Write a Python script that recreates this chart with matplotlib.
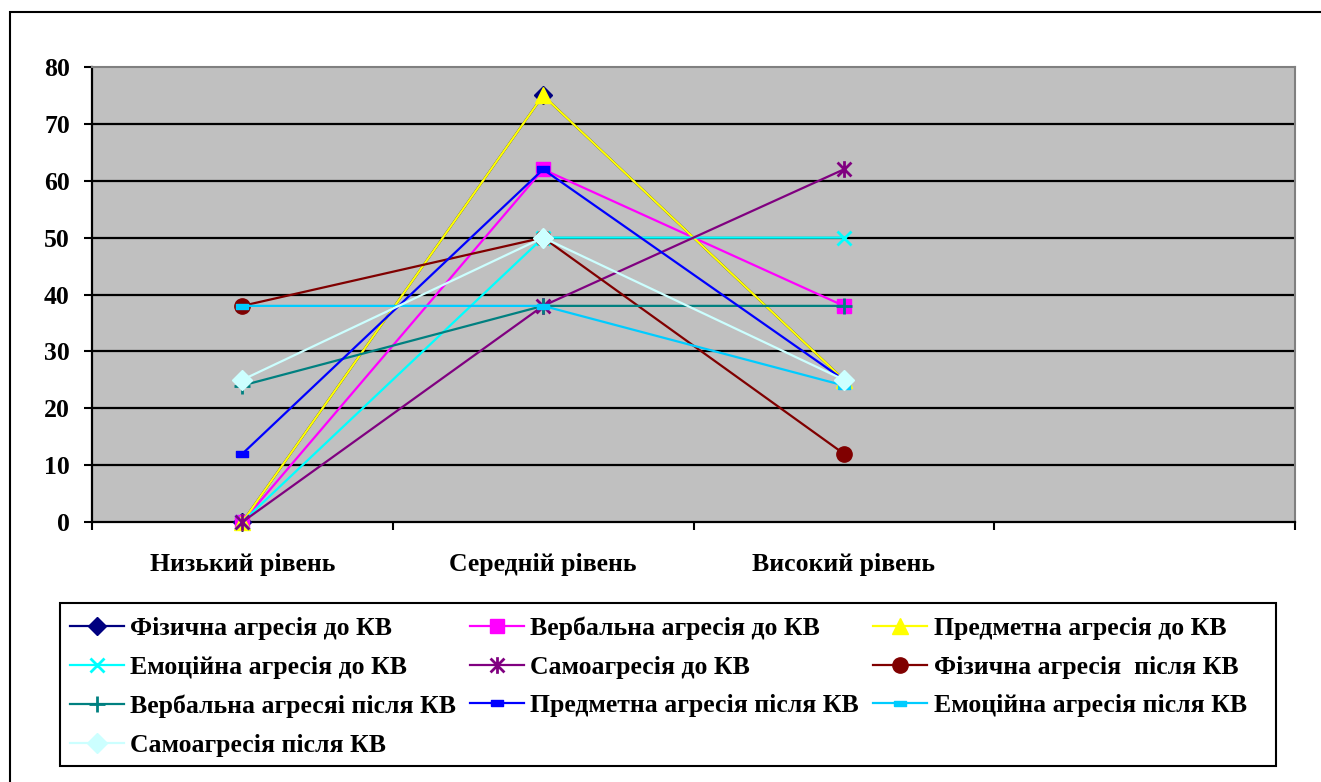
import numpy as np
import matplotlib
matplotlib.use("Agg")
import matplotlib.pyplot as plt
from matplotlib.path import Path
from matplotlib.patches import Rectangle

levels = ["Низький рівень", "Середній рівень", "Високий рівень", ""]

series_names = [
    "Фізична агресія до КВ",
    "Вербальна агресія до КВ",
    "Предметна агресія до КВ",
    "Емоційна агресія до КВ",
    "Самоагресія до КВ",
    "Фізична агресія  після КВ",
    "Вербальна агресяі після КВ",
    "Предметна агресія після КВ",
    "Емоційна агресія після КВ",
    "Самоагресія після КВ",
]

phys_before = [0, 75, 25]
verb_before = [0, 62, 38]
obj_before = [0, 75, 25]
emo_before = [0, 50, 50]
self_before = [0, 38, 62]
phys_after = [38, 50, 12]
verb_after = [24, 38, 38]
obj_after = [12, 62, 25]
emo_after = [38, 38, 24]
self_after = [25, 50, 25]

all_values = [phys_before, verb_before, obj_before, emo_before, self_before,
              phys_after, verb_after, obj_after, emo_after, self_after]

# asterisk marker: an x with a vertical stroke through it
star = Path([(-1, -1), (1, 1), (-1, 1), (1, -1), (0, -1.2), (0, 1.2)],
            [Path.MOVETO, Path.LINETO, Path.MOVETO, Path.LINETO, Path.MOVETO, Path.LINETO])
short_bar = [(-1, -0.55), (1, -0.55), (1, 0.55), (-1, 0.55), (-1, -0.55)]
long_bar = [(-1, -0.4), (1, -0.4), (1, 0.4), (-1, 0.4), (-1, -0.4)]

styles = [
    dict(color="#000080", marker="D", ms=9),
    dict(color="#FF00FF", marker="s", ms=10),
    dict(color="#FFFF00", marker="^", ms=11),
    dict(color="#00FFFF", marker="x", ms=10, mew=2),
    dict(color="#800080", marker=star, ms=12, mew=2),
    dict(color="#800000", marker="o", ms=11),
    dict(color="#008080", marker="+", ms=11, mew=2),
    dict(color="#0000FF", marker=short_bar, ms=8),
    dict(color="#00CCFF", marker=long_bar, ms=9),
    dict(color="#CCFFFF", marker="D", ms=10),
]

plt.rcParams["font.family"] = ["Liberation Serif", "DejaVu Serif"]
plt.rcParams["font.weight"] = "bold"
FS = 18.5

fig = plt.figure(figsize=(13.21, 7.82), dpi=100)
ax = fig.add_axes([92 / 1321, 1 - 522 / 782, (1295 - 92) / 1321, (522 - 67) / 782])
ax.set_facecolor("#C0C0C0")

x = np.arange(3) + 0.5
handles = []
for name, vals, st in zip(series_names, all_values, styles):
    h, = ax.plot(x, vals, color=st["color"], lw=1.6, marker=st["marker"],
                 markersize=st["ms"], markeredgewidth=st.get("mew", 1),
                 markerfacecolor=st["color"], markeredgecolor=st["color"],
                 label=name, clip_on=False, zorder=3)
    handles.append(h)

ax.set_xlim(0, 4)
ax.set_ylim(0, 80)
ax.set_yticks(range(0, 81, 10))
for yv in range(10, 80, 10):
    ax.axhline(yv, color="black", lw=1.6, zorder=1)

ax.set_xticks(range(0, 5))
ax.set_xticklabels([])
ax.set_xticks(np.arange(4) + 0.5, minor=True)
ax.set_xticklabels(levels, minor=True, fontsize=FS, fontweight="bold")
ax.tick_params(axis="x", which="minor", length=0, pad=22)
ax.tick_params(axis="x", which="major", direction="out", length=6, width=1.5)
ax.tick_params(axis="y", direction="out", length=6, width=1.5, labelsize=FS, pad=10)
for lab in ax.get_yticklabels():
    lab.set_fontweight("bold")

ax.spines["left"].set_linewidth(1.6)
ax.spines["bottom"].set_linewidth(1.6)
ax.spines["top"].set_color("#808080")
ax.spines["right"].set_color("#808080")
ax.spines["top"].set_linewidth(1.5)
ax.spines["right"].set_linewidth(1.5)

# outer chart frame
fig.patches.append(Rectangle((10 / 1321, -0.05), 1.1, 0.05 + 1 - 12 / 782,
                             transform=fig.transFigure, fill=False,
                             edgecolor="black", lw=1.5))
# legend frame
fig.patches.append(Rectangle((60 / 1321, 1 - 766 / 782), (1276 - 60) / 1321, (766 - 603) / 782,
                             transform=fig.transFigure, fill=False,
                             edgecolor="black", lw=1.5))

order = [0, 3, 6, 9, 1, 4, 7, 2, 5, 8]
fig.legend([handles[i] for i in order], [series_names[i] for i in order],
           ncol=3, loc="upper left", bbox_to_anchor=(67 / 1321, 1 - 614 / 782),
           frameon=False, prop={"family": "Liberation Serif", "weight": "bold", "size": FS},
           handlelength=2.1, handletextpad=0.25, columnspacing=0.55,
           labelspacing=0.61, borderaxespad=0, borderpad=0.1)

fig.savefig("out.png", dpi=100)
